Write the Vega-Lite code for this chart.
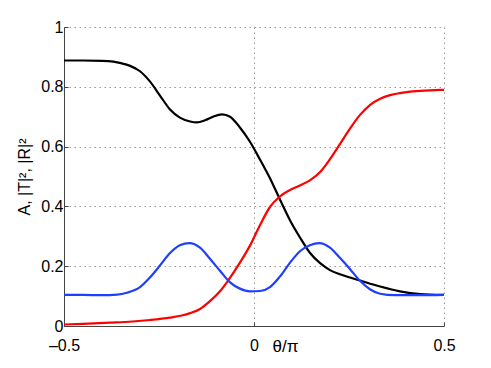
{
  "$schema": "https://vega.github.io/schema/vega-lite/v6.json",
  "autosize": "none",
  "width": 380,
  "height": 299,
  "padding": {"left": 64, "top": 27, "right": 47, "bottom": 42},
  "background": "white",
  "config": {
    "view": {"stroke": null},
    "font": "Liberation Sans",
    "axis": {
      "labelFont": "Liberation Sans",
      "titleFont": "Liberation Sans",
      "labelFontSize": 16,
      "labelColor": "black",
      "titleColor": "black",
      "titleFontWeight": "normal",
      "domainColor": "#444",
      "domainWidth": 1,
      "tickColor": "#444",
      "gridColor": "#999",
      "gridDash": [1.5, 3.5],
      "gridWidth": 1,
      "gridOpacity": 1
    }
  },
  "data": {"values": [
    {"theta": -0.5, "v": 0.888, "s": "A"},
    {"theta": -0.45, "v": 0.888, "s": "A"},
    {"theta": -0.4, "v": 0.887, "s": "A"},
    {"theta": -0.37, "v": 0.884, "s": "A"},
    {"theta": -0.35, "v": 0.879, "s": "A"},
    {"theta": -0.326, "v": 0.87, "s": "A"},
    {"theta": -0.3, "v": 0.852, "s": "A"},
    {"theta": -0.274, "v": 0.818, "s": "A"},
    {"theta": -0.247, "v": 0.77, "s": "A"},
    {"theta": -0.221, "v": 0.724, "s": "A"},
    {"theta": -0.195, "v": 0.697, "s": "A"},
    {"theta": -0.168, "v": 0.684, "s": "A"},
    {"theta": -0.15, "v": 0.681, "s": "A"},
    {"theta": -0.129, "v": 0.688, "s": "A"},
    {"theta": -0.108, "v": 0.7, "s": "A"},
    {"theta": -0.084, "v": 0.708, "s": "A"},
    {"theta": -0.063, "v": 0.7, "s": "A"},
    {"theta": -0.037, "v": 0.664, "s": "A"},
    {"theta": -0.011, "v": 0.617, "s": "A"},
    {"theta": 0.016, "v": 0.556, "s": "A"},
    {"theta": 0.042, "v": 0.494, "s": "A"},
    {"theta": 0.068, "v": 0.424, "s": "A"},
    {"theta": 0.095, "v": 0.353, "s": "A"},
    {"theta": 0.121, "v": 0.296, "s": "A"},
    {"theta": 0.147, "v": 0.245, "s": "A"},
    {"theta": 0.174, "v": 0.21, "s": "A"},
    {"theta": 0.2, "v": 0.187, "s": "A"},
    {"theta": 0.226, "v": 0.173, "s": "A"},
    {"theta": 0.253, "v": 0.162, "s": "A"},
    {"theta": 0.279, "v": 0.152, "s": "A"},
    {"theta": 0.332, "v": 0.132, "s": "A"},
    {"theta": 0.384, "v": 0.116, "s": "A"},
    {"theta": 0.437, "v": 0.107, "s": "A"},
    {"theta": 0.5, "v": 0.104, "s": "A"},
    {"theta": -0.5, "v": 0.005, "s": "R"},
    {"theta": -0.45, "v": 0.007, "s": "R"},
    {"theta": -0.379, "v": 0.011, "s": "R"},
    {"theta": -0.32, "v": 0.015, "s": "R"},
    {"theta": -0.274, "v": 0.02, "s": "R"},
    {"theta": -0.221, "v": 0.028, "s": "R"},
    {"theta": -0.19, "v": 0.035, "s": "R"},
    {"theta": -0.168, "v": 0.043, "s": "R"},
    {"theta": -0.142, "v": 0.057, "s": "R"},
    {"theta": -0.116, "v": 0.083, "s": "R"},
    {"theta": -0.089, "v": 0.117, "s": "R"},
    {"theta": -0.071, "v": 0.147, "s": "R"},
    {"theta": -0.037, "v": 0.212, "s": "R"},
    {"theta": -0.011, "v": 0.268, "s": "R"},
    {"theta": 0.016, "v": 0.338, "s": "R"},
    {"theta": 0.042, "v": 0.398, "s": "R"},
    {"theta": 0.068, "v": 0.433, "s": "R"},
    {"theta": 0.095, "v": 0.455, "s": "R"},
    {"theta": 0.121, "v": 0.47, "s": "R"},
    {"theta": 0.147, "v": 0.487, "s": "R"},
    {"theta": 0.174, "v": 0.515, "s": "R"},
    {"theta": 0.2, "v": 0.558, "s": "R"},
    {"theta": 0.226, "v": 0.608, "s": "R"},
    {"theta": 0.253, "v": 0.661, "s": "R"},
    {"theta": 0.279, "v": 0.706, "s": "R"},
    {"theta": 0.305, "v": 0.739, "s": "R"},
    {"theta": 0.332, "v": 0.76, "s": "R"},
    {"theta": 0.358, "v": 0.772, "s": "R"},
    {"theta": 0.384, "v": 0.779, "s": "R"},
    {"theta": 0.411, "v": 0.784, "s": "R"},
    {"theta": 0.463, "v": 0.788, "s": "R"},
    {"theta": 0.5, "v": 0.79, "s": "R"},
    {"theta": -0.5, "v": 0.104, "s": "T"},
    {"theta": -0.45, "v": 0.104, "s": "T"},
    {"theta": -0.4, "v": 0.103, "s": "T"},
    {"theta": -0.36, "v": 0.105, "s": "T"},
    {"theta": -0.335, "v": 0.111, "s": "T"},
    {"theta": -0.3, "v": 0.13, "s": "T"},
    {"theta": -0.274, "v": 0.162, "s": "T"},
    {"theta": -0.247, "v": 0.203, "s": "T"},
    {"theta": -0.221, "v": 0.244, "s": "T"},
    {"theta": -0.195, "v": 0.27, "s": "T"},
    {"theta": -0.17, "v": 0.277, "s": "T"},
    {"theta": -0.142, "v": 0.262, "s": "T"},
    {"theta": -0.116, "v": 0.225, "s": "T"},
    {"theta": -0.089, "v": 0.184, "s": "T"},
    {"theta": -0.063, "v": 0.146, "s": "T"},
    {"theta": -0.037, "v": 0.125, "s": "T"},
    {"theta": -0.011, "v": 0.116, "s": "T"},
    {"theta": 0.016, "v": 0.117, "s": "T"},
    {"theta": 0.042, "v": 0.13, "s": "T"},
    {"theta": 0.068, "v": 0.165, "s": "T"},
    {"theta": 0.095, "v": 0.212, "s": "T"},
    {"theta": 0.121, "v": 0.25, "s": "T"},
    {"theta": 0.147, "v": 0.27, "s": "T"},
    {"theta": 0.172, "v": 0.277, "s": "T"},
    {"theta": 0.2, "v": 0.262, "s": "T"},
    {"theta": 0.226, "v": 0.228, "s": "T"},
    {"theta": 0.253, "v": 0.19, "s": "T"},
    {"theta": 0.279, "v": 0.151, "s": "T"},
    {"theta": 0.305, "v": 0.123, "s": "T"},
    {"theta": 0.332, "v": 0.108, "s": "T"},
    {"theta": 0.37, "v": 0.103, "s": "T"},
    {"theta": 0.43, "v": 0.103, "s": "T"},
    {"theta": 0.5, "v": 0.104, "s": "T"}
  ]},
  "mark": {"type": "line", "strokeWidth": 2.2, "interpolate": "monotone", "clip": true},
  "encoding": {
    "x": {
      "field": "theta", "type": "quantitative",
      "scale": {"domain": [-0.5, 0.5], "nice": false, "zero": false},
      "axis": {
        "values": [-0.5, 0, 0.5],
        "labelExpr": "datum.value == 0 ? '0' : (datum.value < 0 ? '–0.5' : '0.5')",
        "title": "θ/π",
        "titleFontSize": 17,
        "titleX": 221,
        "titleY": 25,
        "titleBaseline": "alphabetic",
        "tickSize": -4,
        "labelPadding": 15,
        "grid": true,
        "labelFlush": false
      }
    },
    "y": {
      "field": "v", "type": "quantitative",
      "scale": {"domain": [0, 1], "nice": false},
      "axis": {
        "values": [0, 0.2, 0.4, 0.6, 0.8, 1],
        "labelExpr": "datum.value == 0 ? '0' : datum.value == 1 ? '1' : format(datum.value, '.1f')",
        "title": "A, |T|², |R|²",
        "titleFontSize": 16,
        "titlePadding": 8,
        "tickSize": -4,
        "labelPadding": 5,
        "grid": true
      }
    },
    "color": {
      "field": "s", "type": "nominal",
      "scale": {"domain": ["A", "R", "T"], "range": ["#000000", "#ff0000", "#1f3fff"]},
      "legend": null
    }
  }
}
